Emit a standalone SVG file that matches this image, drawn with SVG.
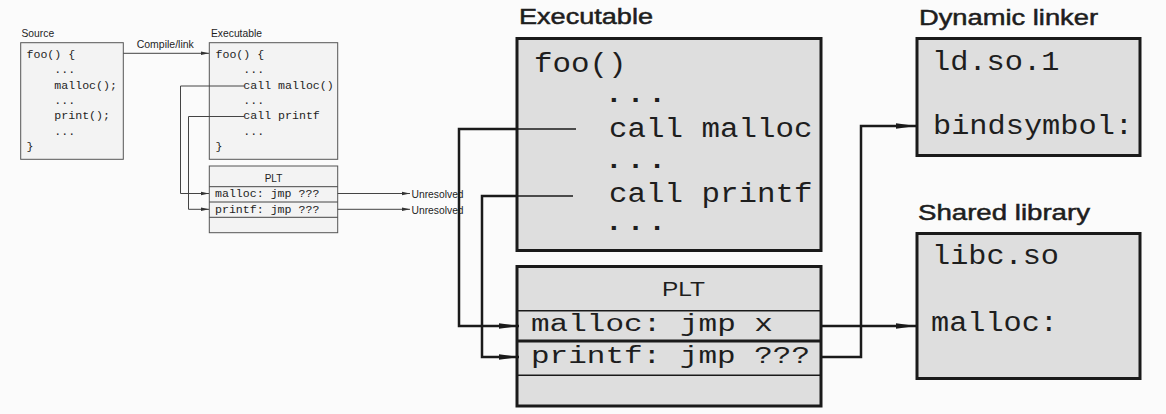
<svg xmlns="http://www.w3.org/2000/svg" width="1166" height="414" viewBox="0 0 1166 414">
<defs>
<style>
.sans{font-family:"Liberation Sans",Arial,sans-serif;fill:#1e1e1e}
.mono{font-family:"Liberation Mono","Courier New",monospace;fill:#1e1e1e}
.sbox{fill:#f3f3f3;stroke:#555;stroke-width:1}
.sline{fill:none;stroke:#444;stroke-width:1}
.bbox{fill:#dedede;stroke:#1a1a1a;stroke-width:3}
.bline{fill:none;stroke:#1a1a1a;stroke-width:2.5}
.thin{fill:none;stroke:#1a1a1a;stroke-width:1.5}
.st{font-size:10.3px}
.sm{font-size:11.6px}
.bt{font-size:22px;stroke:#1e1e1e;stroke-width:0.5}
.bm{font-size:27px}
.pm{font-size:23px}
</style>
<marker id="ah" markerUnits="userSpaceOnUse" markerWidth="20" markerHeight="8" refX="20" refY="4" orient="auto"><path d="M0,1.2 L20,4 L0,6.8 z" fill="#1a1a1a"/></marker>
<marker id="as" markerUnits="userSpaceOnUse" markerWidth="8" markerHeight="5" refX="8" refY="2.5" orient="auto"><path d="M0,0.8 L8,2.5 L0,4.2 z" fill="#333"/></marker>
</defs>
<rect x="0" y="0" width="1166" height="414" fill="#fbfbfb"/>

<g id="source">
<text class="sans st" x="21.5" y="36.7">Source</text>
<rect class="sbox" x="20.7" y="42.7" width="102.6" height="116.6"/>
<text class="mono sm" x="26.5" y="58">foo() {</text>
<text class="mono sm" x="54.3" y="73.3">...</text>
<text class="mono sm" x="54.3" y="88.6">malloc();</text>
<text class="mono sm" x="54.3" y="103.9">...</text>
<text class="mono sm" x="54.3" y="119.2">print();</text>
<text class="mono sm" x="54.3" y="134.5">...</text>
<text class="mono sm" x="26.5" y="149.8">}</text>
</g>

<g id="exe-small">
<text class="sans st" x="211" y="36.7">Executable</text>
<rect class="sbox" x="209.3" y="42.7" width="128.4" height="116.6"/>
<text class="mono sm" x="215.5" y="58">foo() {</text>
<text class="mono sm" x="243.3" y="73.3">...</text>
<text class="mono sm" x="243.3" y="88.6">call malloc()</text>
<text class="mono sm" x="243.3" y="103.9">...</text>
<text class="mono sm" x="243.3" y="119.2">call printf</text>
<text class="mono sm" x="243.3" y="134.5">...</text>
<text class="mono sm" x="215.5" y="149.8">}</text>
</g>

<g id="plt-small">
<rect class="sbox" x="209.3" y="166" width="128.4" height="66.7"/>
<line class="sline" x1="209.3" y1="186.7" x2="337.7" y2="186.7"/>
<line class="sline" x1="209.3" y1="202" x2="337.7" y2="202"/>
<line class="sline" x1="209.3" y1="217.3" x2="337.7" y2="217.3"/>
<text class="sans" font-size="10" x="273.5" y="181.5" text-anchor="middle">PLT</text>
<text class="mono sm" x="215" y="197">malloc: jmp ???</text>
<text class="mono sm" x="215" y="212.5">printf: jmp ???</text>
</g>

<g id="unresolved-labels">
<text class="sans st" x="411.5" y="198">Unresolved</text>
<text class="sans st" x="411.5" y="214">Unresolved</text>
</g>

<g id="exe">
<text class="sans bt" x="519" y="23.5" textLength="134" lengthAdjust="spacingAndGlyphs">Executable</text>
<rect class="bbox" x="517" y="38.5" width="304" height="212"/>
<text class="mono bm" x="534" y="72" textLength="92.5" lengthAdjust="spacingAndGlyphs">foo()</text>
<text class="mono bm" x="603" y="102" textLength="65" lengthAdjust="spacingAndGlyphs">...</text>
<text class="mono bm" x="609" y="137" textLength="203.5" lengthAdjust="spacingAndGlyphs">call malloc</text>
<text class="mono bm" x="603" y="168" textLength="65" lengthAdjust="spacingAndGlyphs">...</text>
<text class="mono bm" x="609" y="202" textLength="203.5" lengthAdjust="spacingAndGlyphs">call printf</text>
<text class="mono bm" x="603" y="230" textLength="65" lengthAdjust="spacingAndGlyphs">...</text>
</g>

<g id="plt">
<rect class="bbox" x="517" y="266.5" width="304" height="139.5"/>
<line class="thin" x1="517" y1="310.7" x2="821" y2="310.7"/>
<line x1="517" y1="341" x2="821" y2="341" stroke="#1a1a1a" stroke-width="3"/>
<line class="thin" x1="517" y1="375.3" x2="821" y2="375.3"/>
<text class="sans" font-size="20px" x="683.5" y="296" text-anchor="middle" textLength="43" lengthAdjust="spacingAndGlyphs">PLT</text>
<text class="mono pm" x="531" y="331" textLength="242" lengthAdjust="spacingAndGlyphs">malloc: jmp x</text>
<text class="mono pm" x="531" y="363" textLength="279" lengthAdjust="spacingAndGlyphs">printf: jmp ???</text>
</g>

<g id="dynamic-linker">
<text class="sans bt" x="919" y="25" textLength="179" lengthAdjust="spacingAndGlyphs">Dynamic linker</text>
<rect class="bbox" x="917" y="38.5" width="223" height="117"/>
<text class="mono bm" x="932" y="70" textLength="127.4" lengthAdjust="spacingAndGlyphs">ld.so.1</text>
<text class="mono bm" x="933" y="133.5" textLength="200" lengthAdjust="spacingAndGlyphs">bindsymbol:</text>
</g>

<g id="shared-library">
<text class="sans bt" x="918" y="220" textLength="172" lengthAdjust="spacingAndGlyphs">Shared library</text>
<rect class="bbox" x="917" y="233.5" width="223" height="145"/>
<text class="mono bm" x="932" y="264" textLength="127" lengthAdjust="spacingAndGlyphs">libc.so</text>
<text class="mono bm" x="931" y="331" textLength="127" lengthAdjust="spacingAndGlyphs">malloc:</text>
</g>

<g id="connectors">
<path class="sline" d="M123.3,53.3 H209" marker-end="url(#as)"/>
<text class="sans" font-size="10.5px" x="136.7" y="48">Compile/link</text>
<path class="sline" d="M244,86 H180.5 V193.5 H209" marker-end="url(#as)"/>
<path class="sline" d="M244,116.5 H188.5 V209.3 H209" marker-end="url(#as)"/>
<path class="sline" d="M337.7,193.5 H410" marker-end="url(#as)"/>
<path class="sline" d="M337.7,209.3 H410" stroke="#777" marker-end="url(#as)"/>
<line class="thin" x1="576" y1="129" x2="517" y2="129"/>
<path class="bline" d="M517,129 H459 V326 H519" marker-end="url(#ah)"/>
<line class="thin" x1="573" y1="196" x2="517" y2="196"/>
<path class="bline" d="M517,196 H482 V357 H519" marker-end="url(#ah)"/>
<path class="bline" d="M821,326 H916" marker-end="url(#ah)"/>
<path class="bline" d="M821,357 H861 V126 H916" marker-end="url(#ah)"/>
</g>
</svg>
